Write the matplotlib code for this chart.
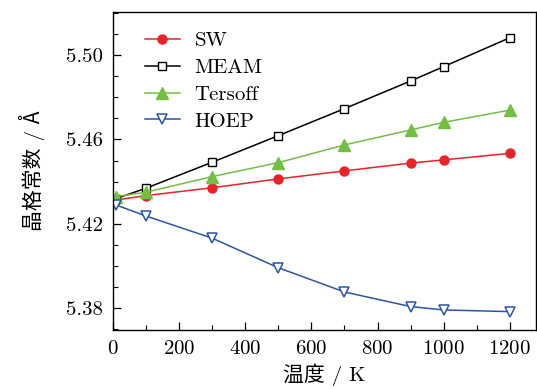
import matplotlib
matplotlib.use("Agg")
import matplotlib.pyplot as plt
from matplotlib.ticker import MultipleLocator, FormatStrFormatter

temps = [10, 100, 300, 500, 700, 900, 1000, 1200]
sw = [5.4313, 5.4334, 5.4371, 5.4413, 5.4451, 5.4488, 5.4503, 5.4534]
meam = [5.4320, 5.4369, 5.4492, 5.4618, 5.4746, 5.4877, 5.4945, 5.5082]
tersoff = [5.4329, 5.4350, 5.4424, 5.4490, 5.4574, 5.4645, 5.4681, 5.4739]
hoep = [5.4289, 5.4237, 5.4132, 5.3992, 5.3877, 5.3808, 5.3792, 5.3784]
series_names = ["SW", "MEAM", "Tersoff", "HOEP"]
xlabel = "温度 / K"
ylabel = "晶格常数 / Å"

fam = ["cmr10", "Noto Sans CJK SC", "DejaVu Serif"]
plt.rcParams["font.family"] = fam
plt.rcParams["axes.formatter.use_mathtext"] = True

fig = plt.figure(figsize=(5.37, 3.89), dpi=100)
ax = fig.add_axes([0.2104, 0.1517, 0.787, 0.8175])

ax.plot(temps, sw, color="#e8242a", marker="o", ms=6.5, lw=1.1, label=series_names[0])
ax.plot(temps, meam, color="black", marker="s", ms=5.5, mfc="white", mew=1.0, lw=1.1, label=series_names[1])
ax.plot(temps, tersoff, color="#72bf44", marker="^", ms=8, lw=1.1, label=series_names[2])
ax.plot(temps, hoep, color="#2a55a5", marker="v", ms=7.5, mfc="white", mew=1.1, lw=1.1, label=series_names[3])

ax.set_xlim(0, 1278)
ax.set_ylim(5.3697, 5.5204)
ax.xaxis.set_major_locator(MultipleLocator(200))
ax.xaxis.set_minor_locator(MultipleLocator(100))
ax.yaxis.set_minor_locator(MultipleLocator(0.01))
ax.yaxis.set_major_formatter(FormatStrFormatter("%.2f"))
ax.set_yticks([5.38, 5.42, 5.46, 5.50])
ax.tick_params(which="both", direction="in", top=False, right=False, labelsize=15)
ax.tick_params(which="major", length=6, width=0.9)
ax.tick_params(axis="y", which="major", pad=7)
ax.tick_params(axis="x", which="major", pad=7)
ax.tick_params(which="minor", length=3.5, width=0.8)
for s in ax.spines.values():
    s.set_linewidth(1.0)

ax.set_xlabel(xlabel, fontsize=15, family=fam, labelpad=4)
ax.set_ylabel(ylabel, fontsize=15, family=fam, labelpad=15)

leg = ax.legend(loc="upper left", frameon=False, fontsize=15, handlelength=1.7,
                handletextpad=0.7, borderaxespad=0.0, labelspacing=0.4,
                bbox_to_anchor=(0.055, 0.965))

fig.savefig("out.png", dpi=100)
